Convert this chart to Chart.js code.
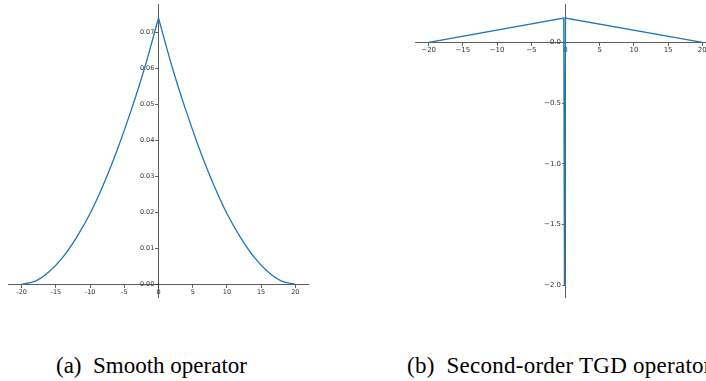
<!DOCTYPE html>
<html>
<head>
<meta charset="utf-8">
<script src="https://cdn.jsdelivr.net/npm/chart.js@4.4.0/dist/chart.umd.min.js"></script>
<style>
html, body { margin: 0; padding: 0; background: #fff; overflow: hidden; width: 706px; height: 381px; }
.plot { position: absolute; top: 4px; width: 301px; height: 294px; }
#smooth-wrap { left: 8px; }
#tgd-wrap { left: 415px; }
.caption { position: absolute; top: 354px; line-height: 23px; font-family: 'Liberation Serif', 'Times New Roman', serif; font-size: 23px; white-space: nowrap; color: #000; }
#cap-a { left: 56px; }
#cap-b { left: 407px; letter-spacing: 0.25px; }
</style>
</head>
<body>
<div class="plot" id="smooth-wrap"><canvas id="smoothChart"></canvas></div>
<div class="plot" id="tgd-wrap"><canvas id="tgdChart"></canvas></div>
<div class="caption" id="cap-a">(a)&nbsp; Smooth operator</div>
<div class="caption" id="cap-b">(b)&nbsp; Second-order TGD operator</div>
<script>
// tick positions shared by both x axes
var xTicks = [-20, -15, -10, -5, 0, 5, 10, 15, 20];

// (a) smooth operator, one array per half (sharp peak at 0)
var smoothLeftX = [-20, -18, -16, -14, -12, -10, -8, -6, -4, -2, 0];
var smoothLeftY = [0, 0.0009, 0.0035, 0.0075, 0.0130, 0.0197, 0.0280, 0.0376, 0.0484, 0.0604, 0.0741];
var smoothRightX = [0, 2, 4, 6, 8, 10, 12, 14, 16, 18, 20];
var smoothRightY = [0.0741, 0.0604, 0.0484, 0.0376, 0.0280, 0.0197, 0.0130, 0.0075, 0.0035, 0.0009, 0];
var smoothYTicks = [0, 0.01, 0.02, 0.03, 0.04, 0.05, 0.06, 0.07];

// (b) second-order TGD operator
var tgdX = [-20, -0.25, -0.15, 0, 20];
var tgdY = [0, 0.2, -2.0, 0.2, 0];
var tgdYTicks = [-2, -1.5, -1, -0.5, 0];

var lineBlue = '#1f77b4';
var axisGrey = '#333';

function points(xs, ys) {
  return xs.map(function(x, i) { return {x: x, y: ys[i]}; });
}

// axis drawn through the origin of the other axis, matplotlib "spines at zero" look
function centerAxis(other, ticks, min, max, fmt, fontSize) {
  var vertical = other === 'x';
  var axis = {
    type: 'linear',
    min: min,
    max: max,
    position: {},
    grid: { drawOnChartArea: false, drawTicks: true, tickLength: 3, tickWidth: 0.8, tickColor: axisGrey },
    border: { display: true, color: axisGrey, width: 0.8 },
    ticks: {
      autoSkip: false,
      maxRotation: 0,
      padding: vertical ? 0 : 1,
      color: axisGrey,
      // tiny line height on the y labels so they don't eat into the plot area
      font: { family: 'DejaVu Sans', size: fontSize, lineHeight: vertical ? 0.01 : 1.2 },
      callback: function(v) { return fmt(v); },
    },
    afterBuildTicks: function(scale) {
      scale.ticks = ticks.map(function(v) { return {value: v}; });
    },
  };
  axis.position[other] = 0;
  return axis;
}

function baseOptions(xAxis, yAxis) {
  return {
    responsive: true,
    maintainAspectRatio: false,
    animation: false,
    events: [],
    layout: { padding: 0 },
    plugins: { legend: { display: false }, tooltip: { enabled: false } },
    scales: { x: xAxis, y: yAxis },
  };
}

var smooth = new Chart(document.getElementById('smoothChart'), {
  type: 'line',
  data: {
    datasets: [{
      data: points(smoothLeftX, smoothLeftY),
      borderColor: lineBlue,
      borderWidth: 1.3,
      pointRadius: 0,
      fill: false,
      cubicInterpolationMode: 'monotone',
    },
    {
      data: points(smoothRightX, smoothRightY),
      borderColor: lineBlue,
      borderWidth: 1.3,
      pointRadius: 0,
      fill: false,
      cubicInterpolationMode: 'monotone',
    }],
  },
  options: baseOptions(
    centerAxis('y', xTicks, -22, 22, function(v) { return String(v); }, 6.5),
    centerAxis('x', smoothYTicks, -0.0038, 0.0780, function(v) { return v.toFixed(2) + '  '; }, 6.5)
  ),
});

var tgd = new Chart(document.getElementById('tgdChart'), {
  type: 'line',
  data: {
    datasets: [{
      data: points(tgdX, tgdY),
      borderColor: lineBlue,
      borderWidth: 1.3,
      pointRadius: 0,
      fill: false,
      tension: 0,
    }],
  },
  options: baseOptions(
    centerAxis('y', xTicks, -22, 22, function(v) { return String(v).replace('-', '\u2212'); }, 7),
    centerAxis('x', tgdYTicks, -2.105, 0.315, function(v) { return (v < 0 ? '\u2212' : '') + Math.abs(v).toFixed(1) + '  '; }, 7)
  ),
});
</script>
</body>
</html>
